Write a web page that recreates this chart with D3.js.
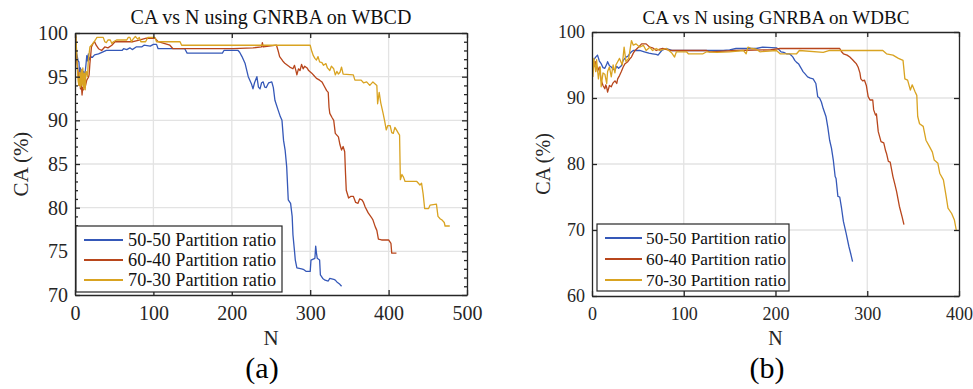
<!DOCTYPE html>
<html>
<head>
<meta charset="utf-8">
<script src="https://cdn.jsdelivr.net/npm/d3@7/dist/d3.min.js"></script>
<style>
  body { margin: 0; background: #fff; }
  svg { display: block; }
  svg text { font-family: "Liberation Serif", "Times New Roman", serif; }
  .axis path, .axis line { stroke: #262626; stroke-width: 1.3; }
  .axis text { fill: #262626; }
  .grid line { stroke: #e3e3e3; stroke-width: 1.3; }
</style>
</head>
<body>
<div class="chart"></div>
<script>
// series labels and colours
const seriesNames = ["50-50 Partition ratio", "60-40 Partition ratio", "70-30 Partition ratio"];
const seriesColors = ["#3558b8", "#b8461c", "#d9a321"];

// tick values
const wbcdXTicks = [0, 100, 200, 300, 400, 500];
const wbcdYTicks = [70, 75, 80, 85, 90, 95, 100];
const wdbcXTicks = [0, 100, 200, 300, 400];
const wdbcYTicks = [60, 70, 80, 90, 100];

// (a) WBCD, [N, CA]
const wbcd50 = [[1,99.8],[2,97.7],[4,96.8],[5,96.7],[6,95.2],[7,96.0],[8,94.3],[9,95.8],[10,94.8],[11,95.6],[12,94.2],
  [13,95.5],[14,96.4],[15,97.4],[16,96.8],[17,97.6],[18,96.9],[20,97.3],[22,97.2],[25,97.5],[30,97.6],[35,97.8],
  [40,98.0],[60,98.0],[62,98.2],[66,98.1],[70,98.3],[73,98.1],[78,98.4],[85,98.4],[88,98.6],[96,98.5],[100,98.7],
  [104,98.7],[106,98.2],[140,98.2],[143,97.7],[188,97.7],[190,98.0],[208,98.0],[210,97.8],[213,97.3],[217,96.5],
  [221,95.0],[225,94.2],[227,93.6],[229,94.3],[232,95.0],[234,93.8],[236,93.6],[238,94.3],[240,94.4],[242,93.8],
  [244,93.75],[247,94.3],[251,94.4],[253,93.75],[255,92.3],[259,91.2],[262,90.4],[264,90.0],[266,87.7],[268,86.6],
  [270,84.7],[272,80.9],[275,80.5],[277,79.0],[278,76.9],[280,75.0],[281,74.0],[283,73.1],[289,73.0],[292,72.9],
  [295,72.7],[300,72.7],[301,74.0],[306,74.2],[307,75.6],[308,74.8],[309,74.2],[312,74.0],[313,72.3],[316,71.9],
  [319,71.7],[323,71.6],[325,71.9],[330,71.8],[332,71.7],[334,71.5],[337,71.3],[340,71.0]];
const wbcd60 = [[1,99.6],[2,97.0],[4,95.5],[5,94.0],[6,95.0],[7,93.6],[8,94.2],[9,92.9],[10,93.8],[11,93.5],[12,94.8],
  [13,93.8],[15,94.6],[17,94.9],[18,95.2],[19,96.5],[21,98.4],[23,98.8],[25,99.0],[27,98.6],[30,98.2],[34,98.0],
  [38,98.4],[42,98.3],[47,98.6],[51,99.0],[74,99.0],[78,99.1],[83,99.2],[91,99.4],[102,99.4],[106,99.0],[121,98.6],
  [125,98.2],[202,98.2],[227,98.3],[238,98.4],[239,98.9],[240,98.4],[257,98.6],[259,98.0],[261,97.3],[265,96.8],
  [268,96.5],[274,96.1],[278,95.9],[280,96.3],[282,95.6],[283,95.2],[285,95.9],[287,95.7],[289,96.4],[291,95.9],
  [293,96.2],[296,96.0],[298,95.7],[302,95.4],[305,95.1],[308,94.8],[312,94.6],[315,94.4],[318,93.9],[321,93.4],
  [323,93.2],[324,91.5],[325,90.8],[328,90.3],[330,90.0],[332,88.5],[336,88.1],[338,87.2],[340,86.6],[342,87.0],
  [344,86.4],[345,84.0],[346,82.0],[349,81.1],[352,81.3],[355,81.3],[358,80.6],[361,80.5],[363,81.0],[366,80.9],
  [368,80.6],[370,80.1],[374,79.4],[378,78.9],[380,78.6],[383,77.8],[385,77.4],[387,76.4],[391,76.3],[400,76.3],
  [403,75.9],[404,74.8],[410,74.8]];
const wbcd70 = [[1,100],[2,98.0],[3,96.0],[4,94.5],[5,94.0],[6,95.5],[7,93.8],[8,95.8],[9,94.0],[10,96.0],[11,93.6],
  [12,95.4],[13,93.5],[14,95.6],[15,95.5],[16,95.0],[17,96.9],[19,98.4],[21,98.6],[23,98.8],[26,99.2],[28,99.5],
  [36,99.5],[38,99.0],[40,98.9],[42,99.2],[45,99.2],[47,98.8],[49,99.0],[53,99.2],[66,99.2],[68,99.5],[70,99.5],
  [72,99.0],[74,99.3],[77,99.6],[80,99.3],[82,99.5],[84,99.0],[90,99.0],[93,99.5],[102,99.5],[104,99.0],[134,99.0],
  [136,98.6],[300,98.6],[302,97.9],[304,97.4],[306,97.1],[308,96.9],[310,97.3],[312,96.7],[315,96.6],[317,96.3],
  [320,96.5],[322,96.0],[325,95.7],[327,96.2],[330,95.9],[332,95.2],[334,95.6],[336,95.3],[338,95.5],[340,96.1],
  [342,95.3],[355,95.2],[357,94.6],[365,94.6],[368,94.3],[372,94.4],[376,94.0],[380,94.4],[385,94.0],[386,91.9],
  [388,93.2],[390,92.0],[393,90.8],[395,89.9],[397,88.9],[399,89.4],[402,89.4],[404,88.6],[406,88.5],[408,89.2],
  [410,88.9],[412,88.6],[414,88.3],[415,83.2],[417,83.8],[419,83.5],[421,83.0],[436,83.0],[440,82.6],[442,82.8],
  [444,81.6],[446,79.9],[451,79.9],[453,80.3],[461,80.4],[463,79.0],[466,78.7],[468,78.6],[471,78.3],[472,77.9],
  [478,77.9]];

// (b) WDBC, [N, CA]
const wdbc50 = [[2,95.8],[4,96.2],[6,96.5],[8,95.6],[10,95.2],[12,94.6],[14,94.5],[16,95.1],[17,95.5],[19,94.9],
  [21,94.7],[23,94.4],[25,94.2],[27,94.8],[29,94.5],[32,94.9],[34,95.7],[37,96.2],[39,96.3],[41,96.7],[43,97.0],
  [45,97.2],[52,97.2],[57,97.0],[62,96.8],[66,96.7],[70,96.6],[72,96.5],[76,97.2],[81,97.5],[87,97.2],[143,97.2],
  [150,97.3],[157,97.5],[179,97.5],[186,97.7],[201,97.6],[204,97.3],[206,97.0],[209,96.9],[212,96.7],[215,96.7],
  [217,96.5],[219,96.2],[221,95.7],[223,95.4],[225,95.2],[228,94.5],[230,94.0],[232,93.7],[235,93.2],[238,93.0],
  [241,92.9],[244,92.2],[246,90.2],[248,90.0],[250,89.4],[252,88.4],[255,87.2],[257,85.6],[259,83.6],[261,82.4],
  [263,80.6],[265,78.1],[266,77.8],[268,75.1],[270,75.0],[272,73.3],[274,71.3],[277,69.5],[280,67.5],[282,66.4],
  [284,65.2]];
const wdbc60 = [[2,94.7],[4,95.5],[6,94.0],[8,94.7],[10,92.7],[12,91.9],[14,91.4],[15,92.0],[16,91.6],[17,90.9],
  [19,91.9],[21,91.7],[23,92.3],[25,92.6],[27,92.2],[28,92.9],[30,93.4],[32,94.0],[34,94.7],[36,95.2],[39,95.5],
  [41,95.9],[43,96.2],[45,96.8],[47,97.2],[50,97.6],[54,98.2],[59,98.2],[63,97.7],[66,97.6],[70,97.2],[74,97.4],
  [77,97.5],[85,97.2],[125,97.2],[128,97.0],[157,97.2],[194,97.3],[205,97.5],[270,97.5],[272,97.0],[274,96.7],
  [278,96.5],[281,96.2],[284,95.8],[286,95.5],[288,95.2],[290,94.7],[292,93.8],[293,92.9],[295,92.6],[297,92.7],
  [299,91.9],[301,90.2],[303,89.7],[306,89.7],[307,88.2],[309,87.4],[310,87.6],[312,84.9],[315,83.4],[318,83.2],
  [320,82.0],[321,81.6],[323,80.4],[325,80.3],[328,78.1],[330,77.0],[332,75.8],[335,73.6],[338,72.0],[340,70.8]];
const wdbc70 = [[1,93.2],[2,96.0],[4,94.0],[5,95.8],[7,92.9],[9,94.7],[10,91.7],[12,93.8],[14,93.6],[16,92.2],
  [17,94.0],[19,94.7],[21,93.2],[23,95.0],[25,93.8],[26,95.0],[28,95.5],[30,96.0],[33,95.0],[35,97.7],[37,95.5],
  [40,96.0],[43,98.7],[45,98.0],[48,98.2],[52,97.7],[56,98.0],[59,97.2],[63,97.7],[66,97.2],[70,97.5],[74,97.2],
  [81,97.5],[87,96.8],[90,96.2],[92,97.0],[103,97.0],[105,96.7],[121,96.7],[125,97.0],[136,96.9],[150,97.0],
  [165,97.2],[168,96.7],[170,97.7],[174,97.5],[179,97.4],[183,97.0],[201,97.2],[205,96.7],[223,96.7],[226,97.2],
  [252,96.9],[259,97.2],[317,97.2],[321,96.7],[328,96.5],[334,96.0],[339,95.7],[341,92.9],[344,92.7],[347,91.2],
  [349,92.0],[352,91.0],[354,90.4],[355,87.2],[357,86.1],[361,85.7],[364,83.6],[368,82.6],[371,81.8],[373,80.6],
  [377,80.1],[379,78.6],[383,77.6],[386,75.1],[388,73.3],[392,72.5],[395,71.5],[397,70.0]];

const svg = d3
  .select(".chart")
  .append("svg")
  .attr("width", 973)
  .attr("height", 389);

const panels = [
  {
    title: "CA vs N using GNRBA on WBCD", caption: "(a)",
    left: 75, right: 467, top: 33, bottom: 295,
    xDomain: [0, 500], yDomain: [70, 100], xTicks: wbcdXTicks, yTicks: wbcdYTicks, minor: true,
    series: [wbcd50, wbcd60, wbcd70],
    tickFont: 20, titleFont: 20, labelFont: 21, legendFont: 18.3,
    titleX: 271, captionX: 262, ylabelX: 28,
    legend: { x: 76, y: 226, w: 206, h: 66, rows: [240, 260, 280], x1: 84, x2: 123, tx: 128 },
  },
  {
    title: "CA vs N using GNRBA on WDBC", caption: "(b)",
    left: 592, right: 959, top: 32, bottom: 296,
    xDomain: [0, 400], yDomain: [60, 100], xTicks: wdbcXTicks, yTicks: wdbcYTicks, minor: false,
    series: [wdbc50, wdbc60, wdbc70],
    tickFont: 18, titleFont: 19, labelFont: 20, legendFont: 17.3,
    titleX: 776, captionX: 767, ylabelX: 550,
    legend: { x: 597, y: 224, w: 192, h: 67, rows: [238, 259, 280], x1: 605, x2: 642, tx: 646 },
  },
];

panels.forEach(drawPanel);

function drawPanel(p) {
  const x = d3.scaleLinear().domain(p.xDomain).range([p.left, p.right]);
  const y = d3.scaleLinear().domain(p.yDomain).range([p.bottom, p.top]);
  const g = svg.append("g");

  // grid
  const grid = g.append("g").attr("class", "grid");
  grid.selectAll(".gx")
    .data(p.xTicks.slice(1, -1))
    .enter()
    .append("line")
    .attr("x1", (d) => x(d)).attr("x2", (d) => x(d))
    .attr("y1", p.top).attr("y2", p.bottom);
  grid.selectAll(".gy")
    .data(p.yTicks.slice(1, -1))
    .enter()
    .append("line")
    .attr("y1", (d) => y(d)).attr("y2", (d) => y(d))
    .attr("x1", p.left).attr("x2", p.right);

  // lines
  const line = d3.line().x((d) => x(d[0])).y((d) => y(d[1]));
  p.series.forEach((s, i) => {
    g.append("path")
      .datum(s)
      .attr("d", line)
      .attr("fill", "none")
      .attr("stroke", seriesColors[i])
      .attr("stroke-width", 1.3)
      .attr("stroke-linejoin", "round");
  });

  // axes, ticks pointing inward
  const fs = p.tickFont + "px";
  g.append("g").attr("class", "axis")
    .attr("transform", "translate(0," + p.bottom + ")")
    .call(d3.axisBottom(x).tickValues(p.xTicks).tickSize(-5).tickSizeOuter(0).tickPadding(11))
    .selectAll("text").style("font-size", fs);
  g.append("g").attr("class", "axis")
    .attr("transform", "translate(0," + p.top + ")")
    .call(d3.axisTop(x).tickValues(p.xTicks).tickSize(-5).tickSizeOuter(0).tickFormat(""));
  g.append("g").attr("class", "axis")
    .attr("transform", "translate(" + p.left + ",0)")
    .call(d3.axisLeft(y).tickValues(p.yTicks).tickSize(-5).tickSizeOuter(0).tickPadding(7))
    .selectAll("text").style("font-size", fs);
  g.append("g").attr("class", "axis")
    .attr("transform", "translate(" + p.right + ",0)")
    .call(d3.axisRight(y).tickValues(p.yTicks).tickSize(-5).tickSizeOuter(0).tickFormat(""));

  if (p.minor) {
    const minorTicks = d3.range(p.yDomain[0], p.yDomain[1] + 1, 1).filter((v) => p.yTicks.indexOf(v) < 0);
    g.append("g").attr("class", "axis")
      .attr("transform", "translate(" + p.left + ",0)")
      .call(d3.axisLeft(y).tickValues(minorTicks).tickSize(-3).tickSizeOuter(0).tickFormat(""))
      .select(".domain").remove();
    g.append("g").attr("class", "axis")
      .attr("transform", "translate(" + p.right + ",0)")
      .call(d3.axisRight(y).tickValues(minorTicks).tickSize(-3).tickSizeOuter(0).tickFormat(""))
      .select(".domain").remove();
  }

  // texts
  g.append("text")
    .attr("x", p.titleX).attr("y", 24)
    .attr("text-anchor", "middle")
    .style("font-size", p.titleFont + "px")
    .attr("fill", "#111")
    .text(p.title);
  g.append("text")
    .attr("x", (p.left + p.right) / 2).attr("y", 345)
    .attr("text-anchor", "middle")
    .style("font-size", p.labelFont + "px")
    .attr("fill", "#262626")
    .text("N");
  g.append("text")
    .attr("transform", "translate(" + p.ylabelX + "," + (p.top + p.bottom) / 2 + ") rotate(-90)")
    .attr("text-anchor", "middle")
    .style("font-size", p.labelFont + "px")
    .attr("fill", "#262626")
    .text("CA (%)");
  g.append("text")
    .attr("x", p.captionX).attr("y", 378)
    .attr("text-anchor", "middle")
    .style("font-size", "30px")
    .attr("fill", "#000")
    .text(p.caption);

  // legend
  const lg = p.legend;
  const legend = g.append("g");
  legend.append("rect")
    .attr("x", lg.x).attr("y", lg.y)
    .attr("width", lg.w).attr("height", lg.h)
    .attr("fill", "#fff")
    .attr("stroke", "#262626")
    .attr("stroke-width", 1.2);
  const item = legend.selectAll(".item")
    .data(seriesNames)
    .enter()
    .append("g");
  item.append("line")
    .attr("x1", lg.x1).attr("x2", lg.x2)
    .attr("y1", (d, i) => lg.rows[i]).attr("y2", (d, i) => lg.rows[i])
    .attr("stroke", (d, i) => seriesColors[i])
    .attr("stroke-width", 2);
  item.append("text")
    .attr("x", lg.tx).attr("y", (d, i) => lg.rows[i])
    .attr("dy", "0.35em")
    .style("font-size", p.legendFont + "px")
    .attr("fill", "#111")
    .text((d) => d);
}
</script>
</body>
</html>
